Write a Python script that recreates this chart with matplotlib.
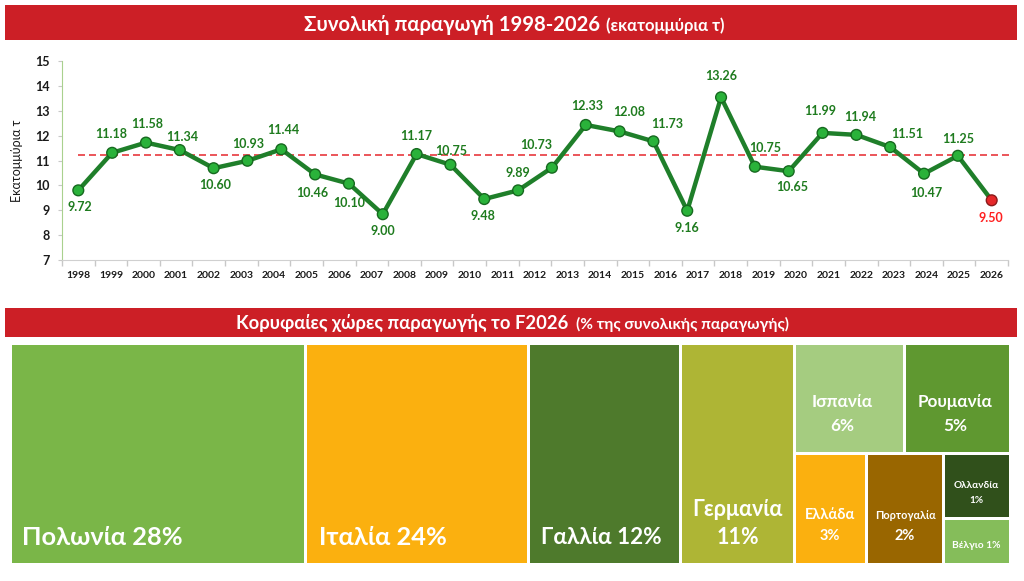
import matplotlib
matplotlib.use('Agg')
import matplotlib.pyplot as plt
from matplotlib.patches import Rectangle
import numpy as np

plt.rcParams['font.family'] = ['Lato', 'DejaVu Sans']

# ---------------- data ----------------
years = [str(y) for y in range(1998, 2027)]
# the source line has 28 points spread over the 29 year slots
value_labels = [9.72, 11.18, 11.58, 11.34, 10.60, 10.93, 11.44, 10.46, 10.10, 9.00,
                11.17, 10.75, 9.48, 9.89, 10.73, 12.33, 12.08, 11.73, 9.16, 13.26,
                10.75, 10.65, 11.99, 11.94, 11.51, 10.47, 11.25, 9.50]
# heights at which the points are drawn in the picture
plotted = [9.80, 11.31, 11.72, 11.42, 10.69, 10.99, 11.45, 10.44, 10.07, 8.84,
           11.26, 10.83, 9.45, 9.80, 10.71, 12.43, 12.17, 11.77, 8.98, 13.54,
           10.75, 10.57, 12.11, 12.03, 11.54, 10.47, 11.19, 9.40]
average = 11.22

countries = ['Πολωνία', 'Ιταλία', 'Γαλλία', 'Γερμανία', 'Ισπανία', 'Ρουμανία',
             'Ελλάδα', 'Πορτογαλία', 'Ολλανδία', 'Βέλγιο']
shares = [28, 24, 12, 11, 6, 5, 3, 2, 1, 1]
# tile areas as drawn in the picture (% of treemap)
tile_area = [29.55, 22.30, 15.15, 11.40, 5.51, 5.26, 3.61, 3.89, 1.96, 1.38]

# ---------------- style ----------------
label_offsets = [(2, -17), (-1, 19), (1, 19), (2, 13), (2, -17), (1, 17), (2, 19),
                 (-3, -19), (0, -19), (0, -17), (0, 18), (1, 14), (-1, -17), (0, 17),
                 (-16, 23), (1, 19), (10, 19), (14, 17), (0, -17), (0, 21), (10, 19),
                 (3, -16), (-2, 22), (4, 18), (17, 13), (2, -19), (0, 17), (-1, -18)]
tile_colors = ['#7ab648', '#fbb00f', '#4e7a2c', '#aeb535', '#a5cc80', '#5f9830',
               '#fbb00f', '#996600', '#30501b', '#85bd5a']
RED = '#cc1f26'
LINE = '#1f7f2a'
LBL = '#1e7b1e'

W, H = 1024, 581
fig = plt.figure(figsize=(W / 100, H / 100), dpi=100)
fig.patch.set_facecolor('white')


def frect(x0, y0, x1, y1):
    return [x0 / W, 1 - y1 / H, (x1 - x0) / W, (y1 - y0) / H]


def banner(y0, y1):
    b = fig.add_axes(frect(5, y0, 1017, y1))
    b.set_xlim(0, 1)
    b.set_ylim(0, 1)
    b.axis('off')
    b.add_patch(Rectangle((0, 0), 1, 1, color=RED))


banner(5, 40)
fig.text(600 / W, 1 - 31 / H, 'Συνολική παραγωγή 1998-2026', color='white',
         fontsize=14.6, fontweight='bold', ha='right', va='baseline')
fig.text(606 / W, 1 - 31 / H, '(εκατομμύρια τ)', color='white',
         fontsize=12, fontweight='bold', ha='left', va='baseline')

banner(308, 337)
fig.text(568 / W, 1 - 329 / H, 'Κορυφαίες χώρες παραγωγής το F2026', color='white',
         fontsize=13.2, fontweight='bold', ha='right', va='baseline')
fig.text(576 / W, 1 - 329 / H, '(% της συνολικής παραγωγής)', color='white',
         fontsize=11.2, fontweight='bold', ha='left', va='baseline')

# ---------------- line chart ----------------
ax = fig.add_axes(frect(62, 61, 1008, 260))
ax.set_xlim(-0.5, len(years) - 0.5)
ax.set_ylim(7, 15)
ax.set_xticks(range(len(years)))
ax.set_xticklabels(years, fontsize=7.5, fontweight='bold', color='#1a1a1a')
ax.set_xticks(np.arange(-0.5, len(years), 1), minor=True)
ax.tick_params(axis='x', which='major', length=0, pad=8)
ax.tick_params(axis='x', which='minor', length=4, color='#c8c8c8', width=1)
ax.set_yticks(range(7, 16))
ax.set_yticklabels([str(v) for v in range(7, 16)], fontsize=9, fontweight='bold',
                   color='#1a1a1a')
ax.tick_params(axis='y', length=3, color='#c8c8c8', pad=6)
for s in ('top', 'right'):
    ax.spines[s].set_visible(False)
ax.spines['left'].set_color('#a9d18e')
ax.spines['bottom'].set_color('#d0d0d0')
ax.set_ylabel('Εκατομμύρια τ', fontsize=9, color='#1a1a1a')
ax.yaxis.set_label_coords(-39 / 946, 0.5)
ax.hlines(average, 0, len(years) - 0.4, colors='#e8383d', lw=1.2,
          linestyles=(0, (4.2, 2.4)), zorder=1, clip_on=False)

n = len(plotted)
ax2 = ax.twiny()
half = 0.5 * (n - 1) / (len(years) - 1)
ax2.set_xlim(-half, (n - 1) + half)
ax2.axis('off')
ax2.plot(range(n), plotted, color=LINE, lw=3.2, zorder=3, solid_joinstyle='round')
face = ['#2ab23a'] * (n - 1) + ['#e5282a']
edge = ['#16691f'] * (n - 1) + ['#8a1a1a']
ax2.scatter(range(n), plotted, s=60, c=face, edgecolors=edge, linewidths=1, zorder=4)
for i, (v, lab) in enumerate(zip(plotted, value_labels)):
    dx, dy = label_offsets[i]
    ax2.annotate(f'{lab:.2f}', (i, v), xytext=(dx, dy), textcoords='offset pixels',
                 ha='center', va='center', fontsize=9, fontweight='bold',
                 color='#ff2020' if i == n - 1 else LBL, zorder=5)

# ---------------- treemap ----------------
tm = fig.add_axes(frect(10.5, 343.5, 1010.5, 564.5))
tm.set_xlim(0, 1000)
tm.set_ylim(221, 0)
tm.axis('off')

tree = ('h', [0, 1, 2, 3, ('v', [('h', [4, 5]), ('h', [6, 7, ('v', [8, 9])])])])


def weight(node):
    if isinstance(node, int):
        return tile_area[node]
    return sum(weight(c) for c in node[1])


def layout(node, x, y, w, h, out):
    if isinstance(node, int):
        out[node] = (x, y, w, h)
        return
    d, children = node
    tot = weight(node)
    for c in children:
        f = weight(c) / tot
        if d == 'h':
            layout(c, x, y, w * f, h, out)
            x += w * f
        else:
            layout(c, x, y, w, h * f, out)
            y += h * f


rects = {}
layout(tree, 0, 0, 1000, 221, rects)
gap = 3
for i in range(len(countries)):
    x, y, w, h = rects[i]
    tm.add_patch(Rectangle((x + gap / 2, y + gap / 2), w - gap, h - gap,
                           color=tile_colors[i], lw=0))

# text styles: (mode, fx, fy_name, fy_pct, fs_name, fs_pct)
text_style = [
    ('one_left', 12, 0.876, None, 18.3, None),
    ('one_left', 13, 0.876, None, 18.3, None),
    ('one_left', 12, 0.876, None, 16.2, None),
    ('two', 0.5, 0.753, 0.880, 15.5, 15.5),
    ('two', 0.43, 0.529, 0.747, 12.3, 12.3),
    ('two', 0.474, 0.529, 0.747, 12.3, 12.3),
    ('two', 0.494, 0.554, 0.740, 10.5, 10.5),
    ('two', 0.498, 0.554, 0.743, 7.8, 10.5),
    ('two', 0.49, 0.493, 0.713, 7.2, 7.2),
    ('one_c', 0.48, 0.596, None, 7.4, None),
]
for i, name in enumerate(countries):
    x, y, w, h = rects[i]
    mode, fx, fy1, fy2, fs1, fs2 = text_style[i]
    pct = f'{shares[i]}%'
    if mode == 'one_left':
        tm.text(x + fx, y + h * fy1, f'{name} {pct}', color='white', fontsize=fs1,
                fontweight='bold', ha='left', va='center')
    elif mode == 'one_c':
        tm.text(x + w * fx, y + h * fy1, f'{name} {pct}', color='white', fontsize=fs1,
                fontweight='bold', ha='center', va='center')
    else:
        tm.text(x + w * fx, y + h * fy1, name, color='white', fontsize=fs1,
                fontweight='bold', ha='center', va='center')
        tm.text(x + w * fx, y + h * fy2, pct, color='white', fontsize=fs2,
                fontweight='bold', ha='center', va='center')

fig.savefig('out.png', dpi=100, facecolor='white')
